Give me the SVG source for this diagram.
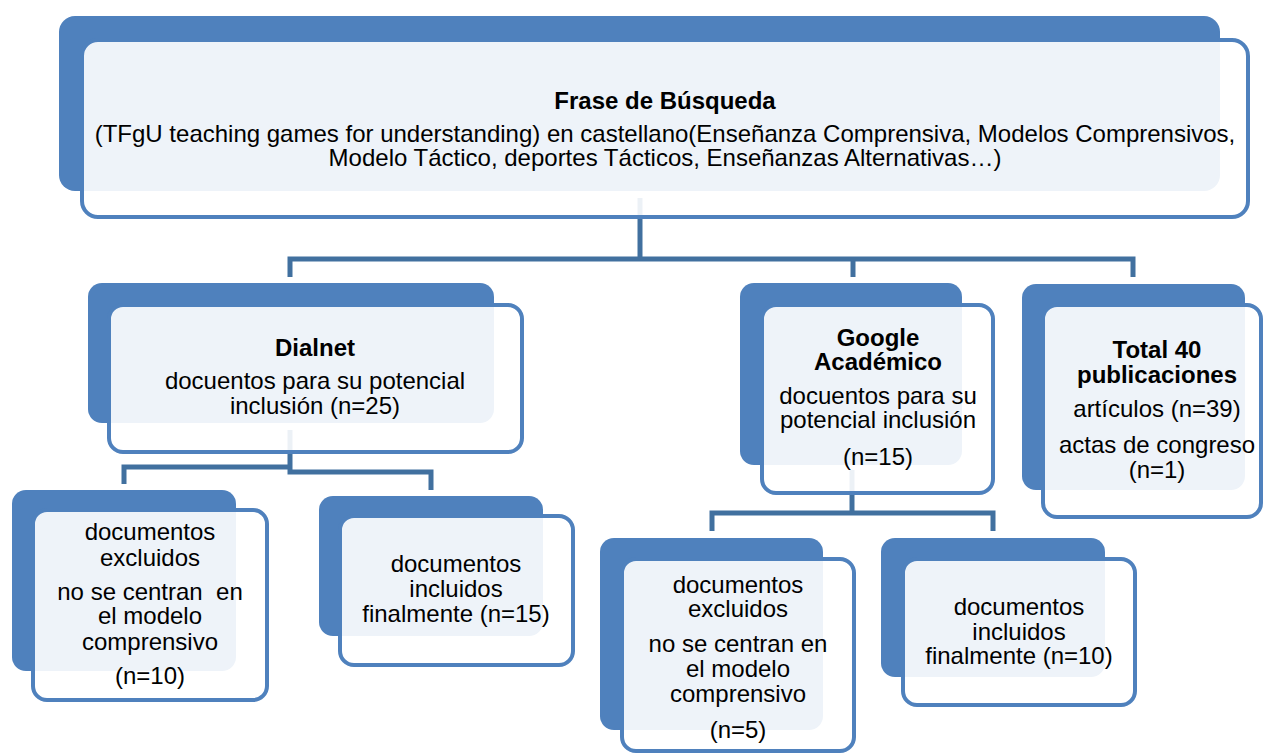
<svg xmlns="http://www.w3.org/2000/svg" width="1264" height="754" viewBox="0 0 1264 754">
<defs>
<style>
.bk{fill:#4F81BD;}
.fr{fill:#FFFFFF;fill-opacity:0.9;stroke:#4F81BD;stroke-width:4;}
.cn{fill:none;stroke:#41709F;stroke-width:5;stroke-linejoin:miter;}
text{font-family:"Liberation Sans",Arial,sans-serif;font-size:24px;fill:#000000;text-anchor:middle;}
.b{font-weight:bold;}
</style>
</defs>
<rect width="1264" height="754" fill="#FFFFFF"/>
<g id="connectors">
<path class="cn" d="M640 198 V259"/>
<path class="cn" d="M290 277 V259 H1133 V277"/>
<path class="cn" d="M853 259 V277"/>
<path class="cn" d="M290 430 V472 H431 V490"/>
<path class="cn" d="M124 484 V467 H290"/>
<path class="cn" d="M852 470 V513"/>
<path class="cn" d="M712 531 V513 H993 V531"/>
</g>
<g id="n-top">
<rect class="bk" x="59" y="16" width="1161" height="175" rx="16"/>
<rect class="fr" x="82" y="40" width="1166" height="177" rx="16"/>
<text class="b" x="665" y="109">Frase de Búsqueda</text>
<text x="665" y="142">(TFgU teaching games for understanding) en castellano(Enseñanza Comprensiva, Modelos Comprensivos,</text>
<text x="665" y="166">Modelo Táctico, deportes Tácticos, Enseñanzas Alternativas…)</text>
</g>
<g id="n-dialnet">
<rect class="bk" x="88" y="283" width="406" height="140" rx="14"/>
<rect class="fr" x="109" y="305" width="413" height="147" rx="14"/>
<text class="b" x="315" y="356">Dialnet</text>
<text x="315" y="389">docuentos para su potencial</text>
<text x="315" y="414">inclusión (n=25)</text>
</g>
<g id="n-google">
<rect class="bk" x="740" y="283" width="222" height="182" rx="14"/>
<rect class="fr" x="762" y="305" width="231" height="188" rx="14"/>
<text class="b" x="878" y="346">Google</text>
<text class="b" x="878" y="370">Académico</text>
<text x="878" y="404">docuentos para su</text>
<text x="878" y="428">potencial inclusión</text>
<text x="878" y="465">(n=15)</text>
</g>
<g id="n-total">
<rect class="bk" x="1022" y="284" width="223" height="206" rx="14"/>
<rect class="fr" x="1043" y="305" width="218" height="212" rx="14"/>
<text class="b" x="1157" y="358">Total 40</text>
<text class="b" x="1157" y="383">publicaciones</text>
<text x="1157" y="417">artículos (n=39)</text>
<text x="1157" y="453">actas de congreso</text>
<text x="1157" y="478">(n=1)</text>
</g>
<g id="n-excl1">
<rect class="bk" x="12" y="490" width="224" height="181" rx="14"/>
<rect class="fr" x="33" y="510" width="234" height="190" rx="14"/>
<text x="150" y="540">documentos</text>
<text x="150" y="566">excluidos</text>
<text x="150" y="600" xml:space="preserve">no se centran  en</text>
<text x="150" y="624">el modelo</text>
<text x="150" y="650">comprensivo</text>
<text x="150" y="684">(n=10)</text>
</g>
<g id="n-incl1">
<rect class="bk" x="319" y="496" width="224" height="140" rx="14"/>
<rect class="fr" x="340" y="516" width="233" height="149" rx="14"/>
<text x="456" y="572">documentos</text>
<text x="456" y="597">incluidos</text>
<text x="456" y="622">finalmente (n=15)</text>
</g>
<g id="n-excl2">
<rect class="bk" x="600" y="538" width="223" height="192" rx="14"/>
<rect class="fr" x="622" y="559" width="232" height="192" rx="14"/>
<text x="738" y="593">documentos</text>
<text x="738" y="617">excluidos</text>
<text x="738" y="652">no se centran en</text>
<text x="738" y="677">el modelo</text>
<text x="738" y="702">comprensivo</text>
<text x="738" y="738">(n=5)</text>
</g>
<g id="n-incl2">
<rect class="bk" x="881" y="538" width="224" height="139" rx="14"/>
<rect class="fr" x="903" y="559" width="232" height="146" rx="14"/>
<text x="1019" y="615">documentos</text>
<text x="1019" y="640">incluidos</text>
<text x="1019" y="664">finalmente (n=10)</text>
</g>
</svg>
